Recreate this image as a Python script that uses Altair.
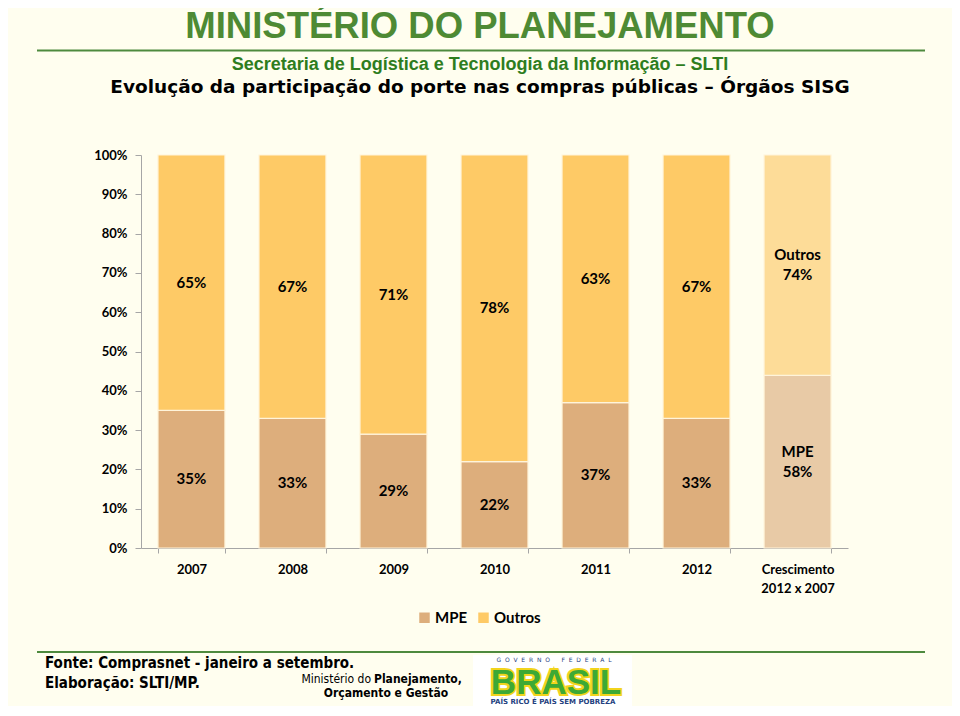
import altair as alt
import pandas as pd

# ---------------- data ----------------
grupos = ["2007", "2008", "2009", "2010", "2011", "2012", "Crescimento 2012 x 2007"]
mpe = [35, 33, 29, 22, 37, 33, 58]
outros = [65, 67, 71, 78, 63, 67, 74]
series = ["MPE", "Outros"]
chaves = ["MPE", "Outros", "MPE (cresc.)", "Outros (cresc.)"]
cores = ["#DDAE7C", "#FECA66", "#E8CAA6", "#FDDC98"]
ticks_y = [0, 0.1, 0.2, 0.3, 0.4, 0.5, 0.6, 0.7, 0.8, 0.9, 1.0]
cresc = "Crescimento 2012 x 2007"

rows = []
for g, m, o in zip(grupos, mpe, outros):
    for ordem, (s, v) in enumerate([("MPE", m), ("Outros", o)]):
        chave = s if g != cresc else s + " (cresc.)"
        rows.append({"grupo": g, "serie": s, "valor": v, "ordem": ordem, "chave": chave})
df = pd.DataFrame(rows)

W, H = 707, 393
FONT = "Lato"
SANS = "Liberation Sans"
GREEN = "#4E8A34"

xaxis = alt.Axis(
    title=None, labelAngle=0, tickBand="extent", tickSize=5,
    domainColor="#A6A6A6", tickColor="#A6A6A6",
    labelFont=FONT, labelFontWeight="bold", labelFontSize=13, labelColor="black",
    labelPadding=10, labelLineHeight=19,
    labelExpr="datum.value == 'Crescimento 2012 x 2007' ? ['Crescimento', '2012 x 2007'] : datum.label",
)
xscale = alt.Scale(paddingInner=0.337, paddingOuter=0.168)
yaxis = alt.Axis(title=None, format=".0%", values=ticks_y, tickCount=11,
                 grid=False, tickSize=6, labelPadding=8, labelOverlap=False,
                 domainColor="#A6A6A6", tickColor="#A6A6A6",
                 labelFont=FONT, labelFontWeight="bold", labelFontSize=13,
                 labelColor="black")
yscale = alt.Scale(domain=[0, 1])

bars = alt.Chart(df).mark_bar(stroke="#FFF4DA", strokeWidth=1.2).encode(
    x=alt.X("grupo:N", sort=grupos, scale=xscale, axis=xaxis),
    y=alt.Y("valor:Q", stack="normalize", scale=yscale, axis=yaxis),
    color=alt.Color("chave:N", scale=alt.Scale(domain=chaves, range=cores),
                    legend=alt.Legend(values=series, orient="none", legendX=276, legendY=455,
                                      direction="horizontal", title=None,
                                      symbolType="square", symbolSize=110, symbolStrokeWidth=0,
                                      labelFont=FONT, labelFontWeight="bold", labelFontSize=15,
                                      labelColor="black", columnPadding=8, labelOffset=3)),
    order=alt.Order("ordem:Q"),
)

base_lbl = alt.Chart(df).transform_joinaggregate(
    total="sum(valor)", groupby=["grupo"]
).transform_calculate(
    frac="datum.valor / datum.total"
).transform_stack(
    stack="frac", groupby=["grupo"], sort=[alt.SortField("ordem")], as_=["y0", "y1"]
).transform_calculate(
    mid="(datum.y0 + datum.y1) / 2",
    rotulo="datum.grupo == 'Crescimento 2012 x 2007' ? [datum.serie, datum.valor + '%'] : datum.valor + '%'",
)
lbl_enc = dict(x=alt.X("grupo:N", sort=grupos, scale=xscale, axis=xaxis),
               y=alt.Y("mid:Q", scale=yscale, axis=yaxis), text="rotulo:N")
labels = base_lbl.transform_filter(f"datum.grupo != '{cresc}'").mark_text(
    font=FONT, fontWeight="bold", fontSize=15, color="black", baseline="middle"
).encode(**lbl_enc)
labels_c = base_lbl.transform_filter(f"datum.grupo == '{cresc}'").mark_text(
    font=FONT, fontWeight="bold", fontSize=15, color="black", baseline="middle",
    lineHeight=20, dy=-10
).encode(**lbl_enc)

one = pd.DataFrame({"a": [0]})


def txt(t, x, y, **kw):
    return alt.Chart(pd.DataFrame({"t": [t]})).mark_text(**kw).encode(
        x=alt.value(x), y=alt.value(y), text="t:N")


def hline(x1, x2, y, color, w):
    return alt.Chart(one).mark_rule(color=color, strokeWidth=w).encode(
        x=alt.value(x1), x2=alt.value(x2), y=alt.value(y))


NB = "\u00a0"
gov = (NB * 2).join("GOVERNO") + NB * 6 + (NB * 2).join("FEDERAL")

deco = [
    txt("MINISTÉRIO DO PLANEJAMENTO", 339, -117, font=SANS, fontWeight="bold",
        fontSize=36.5, color=GREEN, align="center", baseline="alphabetic"),
    hline(-104, 784, -104.5, "#4E8A3E", 2),
    txt("Secretaria de Logística e Tecnologia da Informação – SLTI", 339, -85, font=SANS,
        fontWeight="bold", fontSize=18, color="#2E7D1E", align="center", baseline="alphabetic"),
    txt("Evolução da participação do porte nas compras públicas – Órgãos SISG", 339, -62,
        font="DejaVu Sans", fontWeight="bold", fontSize=18.5, color="black",
        align="center", baseline="alphabetic"),
    hline(-104, 784, 497, "#4E8A3E", 2),
    txt("Fonte: Comprasnet - janeiro a setembro.", -96, 513, font="DejaVu Sans Condensed",
        fontWeight="bold", fontSize=15, color="black", align="left", baseline="alphabetic"),
    txt("Elaboração: SLTI/MP.", -96, 533, font="DejaVu Sans Condensed",
        fontWeight="bold", fontSize=15, color="black", align="left", baseline="alphabetic"),
    txt("Ministério do", 230, 528, font="DejaVu Sans Condensed", fontSize=12,
        color="black", align="right", baseline="alphabetic"),
    txt("Planejamento,", 233, 528, font="DejaVu Sans Condensed", fontWeight="bold",
        fontSize=12, color="black", align="left", baseline="alphabetic"),
    txt("Orçamento e Gestão", 245, 542, font="DejaVu Sans Condensed", fontWeight="bold",
        fontSize=12, color="black", align="center", baseline="alphabetic"),
    alt.Chart(one).mark_rect(color="white").encode(
        x=alt.value(332), x2=alt.value(491), y=alt.value(500), y2=alt.value(551)),
    txt(gov, 413, 505, font="DejaVu Sans", fontSize=6, color="#1F3F7F",
        align="center", baseline="middle"),
    txt("BRASIL", 415, 539, font=SANS, fontWeight="bold", fontSize=35,
        color="#F2D41C", stroke="#F2D41C", strokeWidth=4, align="center", baseline="alphabetic"),
    txt("BRASIL", 415, 539, font=SANS, fontWeight="bold", fontSize=35,
        color="#3DA935", align="center", baseline="alphabetic"),
    txt("PAÍS RICO É PAÍS SEM POBREZA", 412, 547, font="DejaVu Sans", fontWeight="bold",
        fontSize=7, color="#1F3F7F", align="center", baseline="middle"),
]

chart = alt.layer(bars, labels, labels_c, *deco).properties(
    width=W, height=H,
    autosize=alt.AutoSizeParams(type="none"),
    padding={"left": 133, "top": 147, "right": 104, "bottom": 158},
    background="#FFFEEF",
).configure_view(stroke=None)

chart.save("out.html", embed_options={"renderer": "svg", "actions": False})
